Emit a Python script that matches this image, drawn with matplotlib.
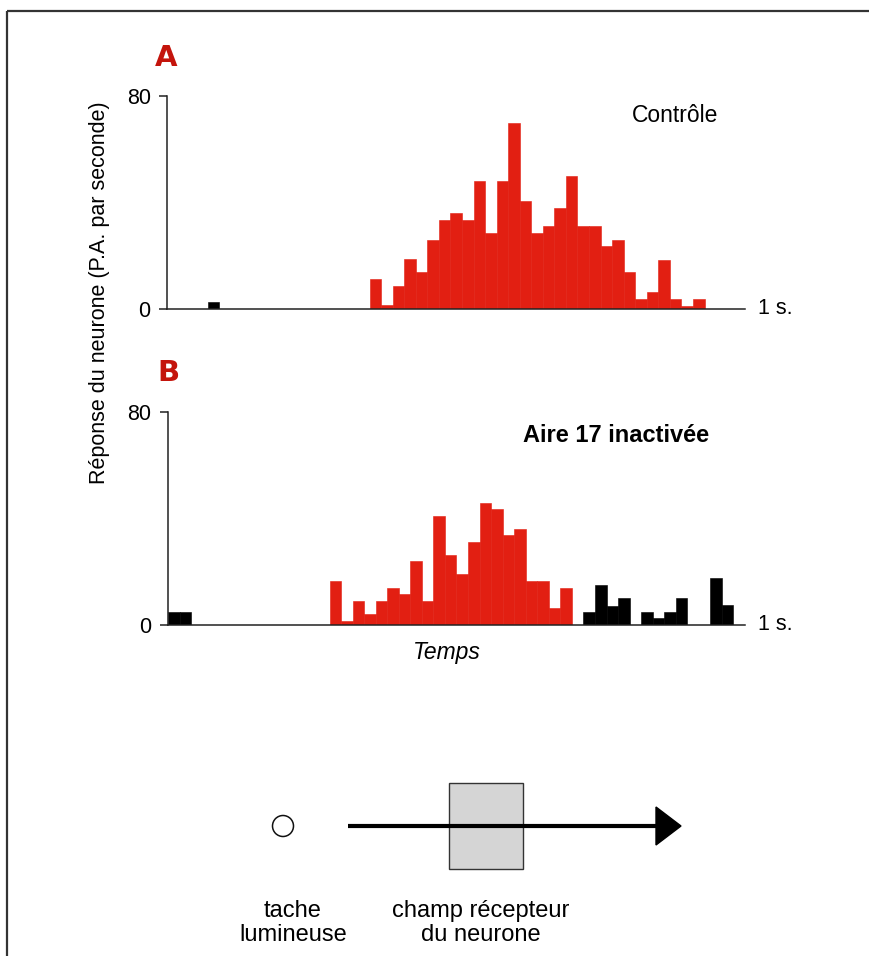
import matplotlib
matplotlib.use("Agg")
import matplotlib.pyplot as plt
import matplotlib.patches as mpatches
import numpy as np

plt.rcParams['font.family'] = ['Liberation Sans', 'DejaVu Sans']

# ---------------- data ----------------
bin_width = 0.02  # s
# Panel A (Contrôle)
A_red_start = 0.35
A_red = [11.4, 1.4, 8.75, 18.75, 13.75, 26, 33.5, 36, 33.5, 48, 28.5, 48, 70,
         40.6, 28.5, 31, 38, 50, 31, 31, 23.5, 26, 13.75, 3.75, 6.4, 18.5,
         3.75, 1.25, 3.75]
A_black_t = [0.07]
A_black = [2.5]
# Panel B (Aire 17 inactivée)
B_red_start = 0.28
B_red = [16.6, 1.5, 9.1, 4, 9.1, 14, 11.6, 23.9, 9.1, 41, 26.3, 19, 31.3, 46,
         43.5, 33.7, 36, 16.5, 16.5, 6.3, 13.8]
B_black_t = [0.0, 0.02, 0.72, 0.74, 0.76, 0.78, 0.82, 0.84, 0.86, 0.88, 0.94, 0.96]
B_black = [5, 5, 5, 15, 7.2, 10.1, 5, 2.5, 5, 10.1, 17.5, 7.5]

yticks = [0, 80]
ytick_labels = ["0", "80"]

RED = '#e21f12'
DARKRED = '#c4140c'

W, H = 870, 956
fig = plt.figure(figsize=(W / 100, H / 100), dpi=100)


def fx(px):
    return px / W


def fy(py):
    return 1 - py / H


def make_panel(left_px, zero_px, top_px):
    ax = fig.add_axes([fx(left_px), fy(zero_px), fx(745) - fx(left_px),
                       (zero_px - top_px) / H])
    ax.set_xlim(0, 1)
    ax.set_ylim(0, 80)
    for s in ['top', 'right']:
        ax.spines[s].set_visible(False)
    for s in ['left', 'bottom']:
        ax.spines[s].set_linewidth(1.1)
        ax.spines[s].set_color('#222222')
    ax.set_xticks([])
    ax.set_yticks(yticks)
    ax.set_yticklabels(ytick_labels)
    ax.tick_params(axis='y', length=6, width=1.1, color='#222222', pad=6,
                   labelsize=15.5)
    ax.patch.set_alpha(0)
    ax.text(1.022, 0, '1 s.', transform=ax.transData, ha='left',
            va='center', fontsize=15.5, clip_on=False)
    return ax


axA = make_panel(167.4, 309, 96)
tA = A_red_start + bin_width * np.arange(len(A_red))
axA.bar(tA, A_red, width=bin_width, align='edge', color=RED, edgecolor=RED,
        linewidth=0.4)
axA.bar(A_black_t, A_black, width=bin_width, align='edge', color='black',
        edgecolor='black', linewidth=0.4)

axB = make_panel(168, 625, 412)
tB = B_red_start + bin_width * np.arange(len(B_red))
axB.bar(tB, B_red, width=bin_width, align='edge', color=RED, edgecolor=RED,
        linewidth=0.4)
axB.bar(B_black_t, B_black, width=bin_width, align='edge', color='black',
        edgecolor='black', linewidth=0.4)

# ---------------- texts ----------------
fig.text(fx(166), fy(58), 'A', ha='center', va='center', fontsize=21,
         fontweight='heavy', family='DejaVu Sans', color=DARKRED)
fig.text(fx(168), fy(373), 'B', ha='center', va='center', fontsize=21,
         fontweight='heavy', family='DejaVu Sans', color=DARKRED)
fig.text(fx(100), fy(293), 'Réponse du neurone (P.A. par seconde)',
         rotation=90, ha='center', va='center', fontsize=15.5)
fig.text(fx(632), fy(116), 'Contrôle', ha='left', va='center', fontsize=16.5)
fig.text(fx(523), fy(436), 'Aire 17 inactivée', ha='left', va='center',
         fontsize=17, fontweight='bold')
fig.text(fx(447), fy(653), 'Temps', ha='center', va='center', fontsize=16.5,
         style='italic')
fig.text(fx(293), fy(923), 'tache\nlumineuse', ha='center', va='center',
         fontsize=17, linespacing=1.15)
fig.text(fx(481), fy(923), 'champ récepteur\ndu neurone', ha='center',
         va='center', fontsize=17, linespacing=1.15)

# ---------------- diagram & frame ----------------
axd = fig.add_axes([0, 0, 1, 1], zorder=-1)
axd.set_xlim(0, W)
axd.set_ylim(H, 0)
axd.axis('off')
axd.plot([7, W], [11, 11], color='#333333', lw=1.6, solid_capstyle='butt')
axd.plot([7, 7], [11, H], color='#333333', lw=1.6, solid_capstyle='butt')
axd.add_patch(mpatches.Circle((283, 826), 10.5, fill=False, lw=1.1,
                              edgecolor='#111111'))
axd.add_patch(mpatches.Rectangle((449, 783), 74, 86, facecolor='#d5d5d5',
                                 edgecolor='#333333', lw=1.0))
axd.plot([348, 660], [826, 826], color='black', lw=3.0, solid_capstyle='butt')
axd.add_patch(mpatches.Polygon([(656, 807), (681, 826), (656, 845)],
                               closed=True, color='black'))

fig.savefig('out.png', dpi=100)
